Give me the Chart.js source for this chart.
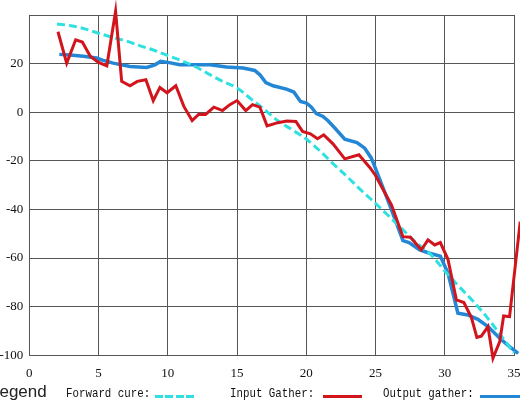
<!DOCTYPE html>
<html>
<head>
<meta charset="utf-8">
<script src="https://cdn.jsdelivr.net/npm/chart.js@4"></script>
<style>
  html, body { margin: 0; padding: 0; background: #fff; overflow: hidden; width: 520px; height: 404px; }
  #wrap { position: relative; width: 520px; height: 404px; overflow: hidden; }
  canvas { position: absolute; left: 0; top: 0; }
  .lg { position: absolute; white-space: nowrap; }
  .title { font-family: "Liberation Sans", Arial, sans-serif; font-size: 17px; color: #222; left: -10px; top: 382px; }
  .item { font-family: "Liberation Mono", "DejaVu Sans Mono", monospace; font-size: 13px; color: #111; top: 386px; transform: scaleX(0.83); transform-origin: left center; }
  .swatch { position: absolute; height: 3px; top: 395px; }
</style>
</head>
<body>
<div id="wrap">
  <canvas id="c" width="540" height="404"></canvas>
  <span class="lg title">Legend</span>
  <span class="lg item" style="left:66px">Forward cure:</span>
  <div class="swatch" style="left:155px;width:39px;background:repeating-linear-gradient(90deg,#2fe0e0 0 8px,transparent 8px 10.5px)"></div>
  <span class="lg item" style="left:230px">Input Gather:</span>
  <div class="swatch" style="left:323px;width:39px;background:#d2141c"></div>
  <span class="lg item" style="left:383px">Output gather:</span>
  <div class="swatch" style="left:480px;width:45px;background:#2387d6"></div>
</div>
<script>
// Forward curve (smooth model)
const forwardX = [2, 3, 4, 5, 6, 7, 8, 9, 10, 11, 12, 13, 14, 15, 16, 17, 18, 19, 20, 21, 22, 23, 24, 25, 26, 27, 28, 29, 30, 31, 32, 33, 34, 35];
const forwardY = [36.3, 35.6, 34.3, 32.5, 30.8, 29.3, 27.3, 25.5, 23.3, 21.2, 18.7, 15.6, 12.6, 10, 5.5, 1, -3.7, -7.3, -11, -16, -21.5, -26.8, -32.3, -37.5, -42.9, -48.5, -54, -58.6, -65.3, -71.5, -77.5, -84, -91.5, -99];

// Input gather (raw picks)
const inputX = [2.07, 2.7, 3.35, 3.83, 4.4, 5.0, 5.6, 6.23, 6.67, 7.27, 7.8, 8.42, 8.95, 9.43, 9.95, 10.58, 11.16, 11.76, 12.24, 12.73, 13.33, 13.95, 14.48, 15.0, 15.63, 16.12, 16.65, 17.17, 17.95, 18.6, 19.25, 19.73, 20.3, 20.81, 21.26, 21.93, 22.78, 23.8, 24.6, 25.0, 26.15, 26.98, 27.52, 28.31, 28.79, 29.27, 29.68, 30.23, 30.84, 31.38, 31.92, 32.32, 32.64, 33.12, 33.48, 33.97, 34.25, 34.68, 35.45];
const inputY = [33.1, 20.2, 29.8, 28.9, 23, 20.5, 19.1, 41.5, 12.7, 10.9, 12.7, 13.4, 4.8, 10.2, 8.0, 10.9, 2.4, -3.4, -0.8, -0.9, 2.1, 0.7, 3.1, 4.8, 0.7, 3.1, 2.1, -5.6, -4.3, -3.6, -3.8, -7.9, -8.9, -10.9, -9.3, -13, -19.2, -17.5, -22.8, -26, -38.1, -51.2, -51.4, -56.6, -52.5, -54.6, -53.6, -60.5, -77.2, -78.3, -84.4, -92.6, -92.1, -88.2, -101.2, -94.4, -83.8, -84.1, -45];

// Output gather (processed picks)
const outputX = [2.17, 2.94, 3.9, 4.86, 5.34, 6.06, 7.27, 8.47, 9.07, 9.48, 10.1, 10.87, 11.6, 13.04, 14.24, 15.44, 16.28, 16.65, 17.08, 17.6, 18.57, 19.1, 19.58, 20.01, 20.37, 20.73, 21.21, 21.57, 22.06, 22.78, 23.66, 24.22, 24.7, 24.94, 26.02, 26.98, 27.42, 28.19, 28.91, 29.68, 30.23, 30.95, 31.67, 32.39, 33.12, 33.97, 34.68, 35.3];
const outputY = [23.8, 23.5, 23.0, 22.3, 21.3, 20.2, 18.8, 18.4, 19.5, 20.9, 20.4, 19.5, 19.5, 19.5, 18.6, 18.2, 17.2, 15.4, 12.2, 10.9, 9.5, 8.3, 4.4, 3.8, 2.1, -0.6, -1.75, -3.5, -6.5, -11.1, -12.5, -14.8, -18.9, -22.3, -38.1, -52.8, -53.6, -56.6, -58.0, -59.2, -66.2, -82.7, -83.4, -85.2, -88.2, -93, -96.4, -99.2];

// Axis ticks
const xTicks = [0, 5, 10, 15, 20, 25, 30, 35];
const yTicks = [-100, -80, -60, -40, -20, 0, 20, 40];

const pts = (xs, ys) => xs.map((x, i) => ({ x, y: ys[i] }));

const tickFont = { family: '"Liberation Serif", "Times New Roman", serif', size: 13 };
const gridColor = '#555555';

new Chart(document.getElementById('c'), {
  type: 'line',
  data: {
    datasets: [
      {
        label: 'Forward cure',
        data: pts(forwardX, forwardY),
        borderColor: '#2fe0e0',
        borderWidth: 3,
        borderDash: [8, 4],
        cubicInterpolationMode: 'monotone',
        pointRadius: 0,
        clip: false,
        order: 1
      },
      {
        label: 'Input Gather',
        data: pts(inputX, inputY),
        borderColor: '#d2141c',
        borderWidth: 3,
        tension: 0,
        pointRadius: 0,
        clip: false,
        order: 0
      },
      {
        label: 'Output gather',
        data: pts(outputX, outputY),
        borderColor: '#2387d6',
        borderWidth: 3.5,
        tension: 0,
        pointRadius: 0,
        clip: false,
        order: 2
      }
    ]
  },
  options: {
    responsive: false,
    animation: false,
    events: [],
    layout: { padding: { top: 15, right: 26, left: 0, bottom: 0 } },
    plugins: { legend: { display: false }, tooltip: { enabled: false } },
    scales: {
      x: {
        type: 'linear',
        min: xTicks[0],
        max: xTicks[xTicks.length - 1],
        afterBuildTicks: s => { s.ticks = xTicks.map(v => ({ value: v })); },
        afterFit: s => { s.height = 48.7; },
        ticks: { font: tickFont, color: '#111', padding: 10, maxRotation: 0, autoSkip: false },
        grid: { color: gridColor, lineWidth: 1, drawTicks: false },
        border: { color: gridColor }
      },
      y: {
        type: 'linear',
        min: yTicks[0],
        max: yTicks[yTicks.length - 1],
        afterBuildTicks: s => { s.ticks = yTicks.map(v => ({ value: v })); },
        afterFit: s => { s.width = 29.3; },
        ticks: {
          font: tickFont, color: '#111', padding: 6, autoSkip: false,
          callback: v => (v === 40 ? '' : String(v))
        },
        grid: { color: gridColor, lineWidth: 1, drawTicks: false },
        border: { color: gridColor }
      }
    }
  }
});
</script>
</body>
</html>
